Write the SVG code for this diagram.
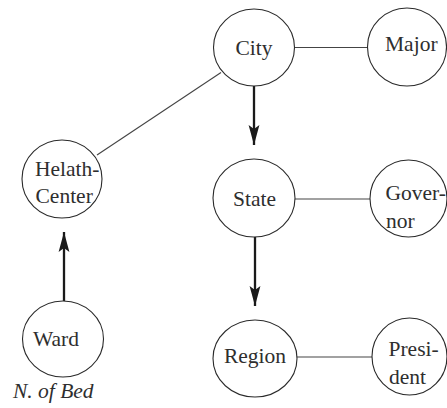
<svg xmlns="http://www.w3.org/2000/svg" width="447" height="408" viewBox="0 0 447 408" font-family="'Liberation Serif', 'Times New Roman', Times, serif">
<defs>
<style>
.node ellipse{fill:#fff;stroke:#2a2a2a;stroke-width:1.1}
text{font-family:'Liberation Serif','Times New Roman',Times,serif;font-size:21.5px;fill:#2e2e2e}
.c{text-anchor:middle}
.thin{stroke:#444;stroke-width:1.1;fill:none}
.thick{stroke:#1a1a1a;stroke-width:2.3;fill:none}
</style>
<marker id="ah" viewBox="0 0 20 12" refX="20" refY="6" markerWidth="20" markerHeight="12" markerUnits="userSpaceOnUse" orient="auto">
<path d="M0,0.6 L20,6 L0,11.4 L4,6 Z" fill="#1a1a1a"/>
</marker>
</defs>
<rect width="447" height="408" fill="#fff"/>
<g id="connectors">
<line class="thin" x1="294.5" y1="47.5" x2="367" y2="47.5"/>
<line class="thin" x1="295" y1="199" x2="370" y2="199"/>
<line class="thin" x1="297" y1="357" x2="372.5" y2="357"/>
<line class="thin" x1="221" y1="72.5" x2="97" y2="155"/>
<path class="thick" d="M254,86 V145" marker-end="url(#ah)"/>
<path class="thick" d="M255,237 V306" marker-end="url(#ah)"/>
<path class="thick" d="M64,301 V232" marker-end="url(#ah)"/>
</g>
<g id="city" class="node"><ellipse cx="254" cy="47.5" rx="40.5" ry="38.5"/><text class="c" x="254" y="55">City</text></g>
<g id="major" class="node"><ellipse cx="407" cy="47" rx="39.5" ry="39"/><text x="385" y="51">Major</text></g>
<g id="helath-center" class="node"><ellipse cx="62" cy="179" rx="40" ry="39"/><text x="35" y="176">Helath-</text><text x="35.5" y="203">Center</text></g>
<g id="state" class="node"><ellipse cx="254" cy="198" rx="41" ry="39"/><text class="c" x="254.5" y="206">State</text></g>
<g id="governor" class="node"><ellipse cx="408.5" cy="198.5" rx="38.5" ry="38.5"/><text x="385.5" y="200">Gover-</text><text x="386" y="228">nor</text></g>
<g id="ward" class="node"><ellipse cx="63" cy="339" rx="40.5" ry="38"/><text x="33" y="346">Ward</text><text x="13" y="398" font-style="italic">N. of Bed</text></g>
<g id="region" class="node"><ellipse cx="255" cy="358.5" rx="42" ry="38.5"/><text class="c" x="255" y="363">Region</text></g>
<g id="president" class="node"><ellipse cx="409.5" cy="356.5" rx="37.5" ry="38.5"/><text x="388.5" y="356">Presi-</text><text x="389" y="384">dent</text></g>
</svg>
